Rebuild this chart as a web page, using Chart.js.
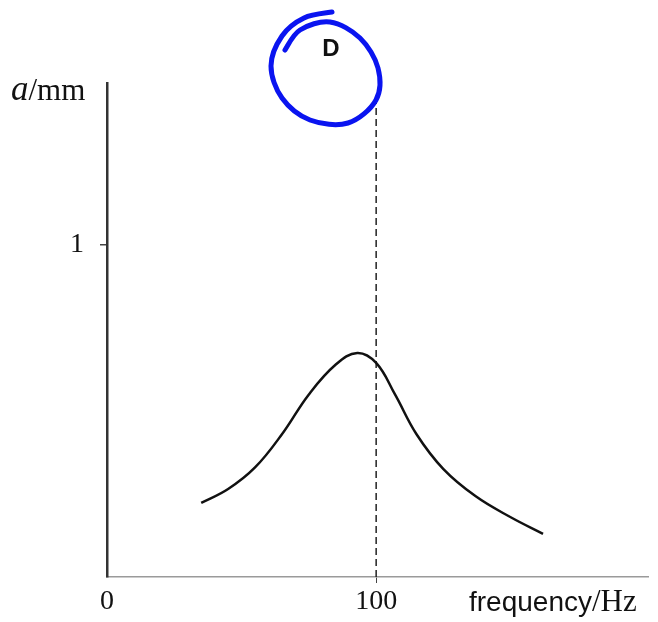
<!DOCTYPE html>
<html>
<head>
<meta charset="utf-8">
<script src="https://cdn.jsdelivr.net/npm/chart.js@4.4.1/dist/chart.umd.min.js"></script>
<style>
  body { margin: 0; background: #fff; }
  #wrap { width: 658px; height: 622px; }
</style>
</head>
<body>
<div id="wrap"><canvas id="resonance"></canvas></div>
<script>
// amplitude vs driving frequency
const freq = [35, 45, 55, 65, 75, 85, 93, 100, 107, 115, 125, 137, 150, 162];
const amp = [0.223, 0.265, 0.33, 0.43, 0.55, 0.64, 0.675, 0.645, 0.55, 0.43, 0.325, 0.243, 0.18, 0.13];
// dashed marker at the natural frequency
const markerFreq = [100, 100];
const markerAmp = [0, 1.45];
const xTicks = [0, 100];
const yTicks = [1];

const serif = "'Liberation Serif', 'DejaVu Serif', serif";
const sans = "'Liberation Sans', Arial, sans-serif";

// axis titles and the hand-drawn blue ring with the letter D
const extras = {
    id: 'extras',
    afterDraw(chart) {
        const ctx = chart.ctx;
        ctx.save();
        ctx.fillStyle = '#111';
        ctx.textBaseline = 'alphabetic';
        ctx.textAlign = 'left';
        ctx.font = 'italic 35px ' + serif;
        ctx.fillText('a', 11, 100);
        let w = ctx.measureText('a').width;
        ctx.font = '31px ' + serif;
        ctx.fillText('/mm', 11 + w, 100);

        ctx.font = '28px ' + sans;
        ctx.fillText('frequency', 469, 611);
        w = ctx.measureText('frequency').width;
        ctx.font = '31px ' + serif;
        ctx.fillText('/Hz', 469 + w, 611);

        ctx.font = 'bold 24px ' + sans;
        ctx.textAlign = 'center';
        ctx.textBaseline = 'middle';
        ctx.fillText('D', 331, 49);

        // ring
        const pts = [[285, 50], [300, 30], [330, 22], [360, 38], [378, 68], [376, 100],
            [348, 123], [310, 120], [282, 98], [271, 66], [282, 36], [304, 18], [332, 12]];
        ctx.strokeStyle = '#0a14f0';
        ctx.lineWidth = 5;
        ctx.lineCap = 'round';
        ctx.beginPath();
        ctx.moveTo(pts[0][0], pts[0][1]);
        for (let i = 0; i < pts.length - 1; i++) {
            const p0 = pts[Math.max(i - 1, 0)], p1 = pts[i], p2 = pts[i + 1], p3 = pts[Math.min(i + 2, pts.length - 1)];
            ctx.bezierCurveTo(p1[0] + (p2[0] - p0[0]) / 6, p1[1] + (p2[1] - p0[1]) / 6,
                p2[0] - (p3[0] - p1[0]) / 6, p2[1] - (p3[1] - p1[1]) / 6, p2[0], p2[1]);
        }
        ctx.stroke();
        ctx.restore();
    }
};

new Chart(document.getElementById('resonance'), {
    type: 'line',
    data: {
        datasets: [{
            data: freq.map((f, i) => ({ x: f, y: amp[i] })),
            borderColor: '#111',
            borderWidth: 2.5,
            pointRadius: 0,
            tension: 0.4,
            fill: false
        }, {
            data: markerFreq.map((f, i) => ({ x: f, y: markerAmp[i] })),
            borderColor: '#222',
            borderWidth: 1.5,
            borderDash: [7, 4],
            pointRadius: 0,
            fill: false
        }]
    },
    plugins: [extras],
    options: {
        responsive: true,
        maintainAspectRatio: false,
        animation: false,
        layout: { padding: { top: 83, right: 10, left: 0, bottom: 0 } },
        plugins: {
            legend: { display: false },
            tooltip: { enabled: false }
        },
        scales: {
            x: {
                type: 'linear',
                min: 0,
                max: 201,
                afterBuildTicks: s => { s.ticks = xTicks.map(v => ({ value: v })); },
                afterFit: s => { s.height = 45; },
                grid: {
                    drawOnChartArea: false,
                    tickLength: 6,
                    color: c => (c.tick && c.tick.value === 0) ? 'rgba(0,0,0,0)' : '#444'
                },
                border: { color: '#9a9a9a', width: 1.5 },
                ticks: { font: { family: serif, size: 28 }, color: '#111', padding: 2, maxRotation: 0 }
            },
            y: {
                min: 0,
                max: 1.488,
                afterBuildTicks: s => { s.ticks = yTicks.map(v => ({ value: v })); },
                afterFit: s => { s.width = 107; },
                grid: { drawOnChartArea: false, tickLength: 7, color: '#444', lineWidth: 1.5 },
                border: { color: '#333', width: 2.5 },
                ticks: { font: { family: serif, size: 28 }, color: '#111', padding: 16 }
            }
        }
    }
});
</script>
</body>
</html>
